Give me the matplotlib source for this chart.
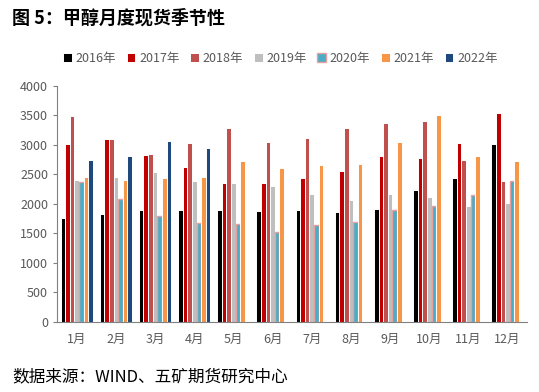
import numpy as np
import matplotlib.pyplot as plt

plt.rcParams['font.family'] = ['Noto Sans CJK SC', 'DejaVu Sans']

months = ['1月', '2月', '3月', '4月', '5月', '6月', '7月', '8月', '9月', '10月', '11月', '12月']
years = ['2016年', '2017年', '2018年', '2019年', '2020年', '2021年', '2022年']
v2016 = [1760, 1820, 1900, 1900, 1890, 1880, 1890, 1870, 1920, 2240, 2440, 3010]
v2017 = [3010, 3100, 2830, 2620, 2360, 2360, 2440, 2550, 2810, 2780, 3030, 3540]
v2018 = [3490, 3100, 2840, 3030, 3280, 3040, 3110, 3290, 3370, 3410, 2750, 2390]
v2019 = [2400, 2460, 2540, 2380, 2350, 2300, 2170, 2060, 2160, 2120, 1960, 2020]
v2020 = [2370, 2090, 1800, 1670, 1660, 1530, 1640, 1700, 1890, 1960, 2150, 2390]
v2021 = [2460, 2400, 2430, 2460, 2720, 2600, 2650, 2680, 3040, 3510, 2810, 2730]
v2022 = [2740, 2810, 3060, 2940]

series = [v2016, v2017, v2018, v2019, v2020, v2021, v2022]
colors = ['#000000', '#C00000', '#C0504D', '#BFBFBF', '#4BACC6', '#F79646', '#1F497D']
edges = ['white', 'white', 'white', 'white', '#E6A0A0', 'white', 'white']

fig = plt.figure(figsize=(5.39, 3.92), dpi=100)
ax = fig.add_axes([0.106, 0.179, 0.872, 0.602])

x = np.arange(len(months))
w = 0.118
for i, vals in enumerate(series):
    xs = x[:len(vals)] + (i - 3) * w
    ax.bar(xs, vals, width=w, color=colors[i], edgecolor=edges[i],
           linewidth=0.7 if i != 4 else 1.0, label=years[i])

ax.set_xlim(-0.5, 11.5)
ax.set_ylim(0, 4000)
ax.set_yticks(range(0, 4001, 500))
ax.set_xticks(x)
ax.set_xticklabels(months)
ax.tick_params(axis='both', colors='#595959', labelsize=9)
ax.tick_params(axis='x', length=0, pad=8)
ax.tick_params(axis='y', length=3, color='#808080')
for s in ['top', 'right']:
    ax.spines[s].set_visible(False)
ax.spines['left'].set_color('#808080')
ax.spines['bottom'].set_color('#808080')

leg = fig.legend(loc='center', bbox_to_anchor=(0.52, 0.852), ncol=7, frameon=False,
                 fontsize=9, handlelength=0.7, handleheight=0.7, handletextpad=0.3,
                 columnspacing=0.85)
for t in leg.get_texts():
    t.set_color('#595959')

fig.text(0.022, 0.955, '图 5：甲醇月度现货季节性', fontsize=13, fontweight='bold', va='center')
fig.text(0.022, 0.04, '数据来源：WIND、五矿期货研究中心', fontsize=12, va='center')

fig.savefig('out.png', dpi=100)
